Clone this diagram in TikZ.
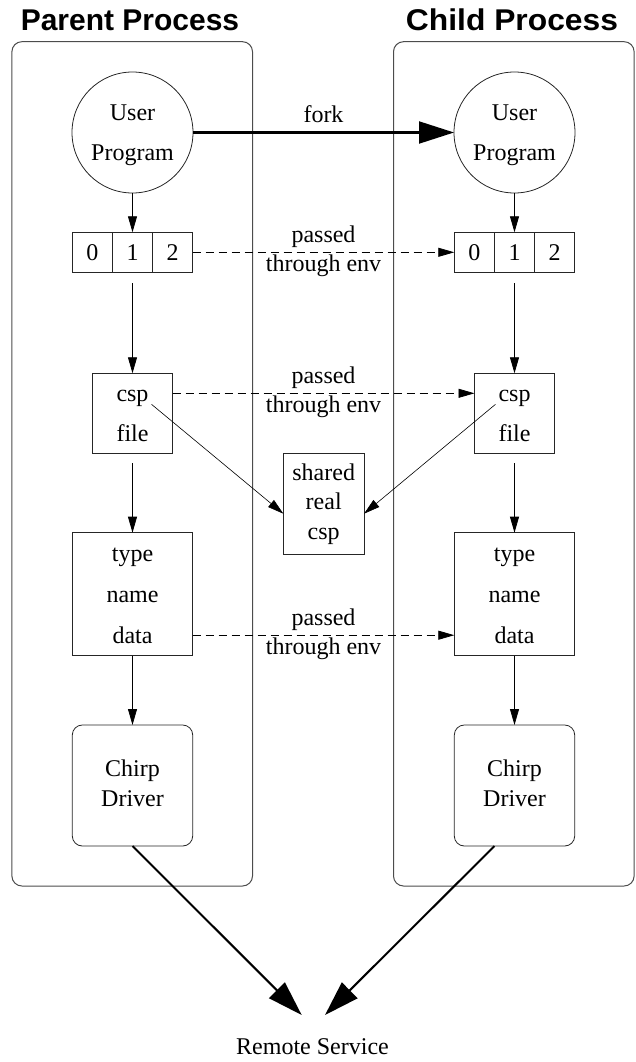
\documentclass[tikz,border=0pt]{standalone}
\usepackage{fontspec}
\usepackage{graphicx}
\setmainfont{Liberation Serif}
\newfontfamily\titlefont{Liberation Sans}
\usetikzlibrary{arrows.meta}
\begin{document}
\begin{tikzpicture}[x=1pt,y=-1pt,
  every node/.style={inner sep=0pt, outer sep=0pt},
  procbox/.style={draw=black!70, line width=1pt, rounded corners=10pt, minimum width=240.6pt, minimum height=844.3pt},
  titletext/.style={font=\titlefont\bfseries\fontsize{30}{34}\selectfont, anchor=base},
  tx/.style={font=\fontsize{24}{#1}\selectfont, align=center},
  tx/.default=40,
  plainbox/.style={draw=black!85, line width=0.8pt},
  cell/.style={plainbox, minimum width=40.2pt, minimum height=40pt, tx},
  small/.style={-{Triangle[length=16pt,width=9pt]}, line width=0.8pt},
  big/.style={-{Triangle[length=35pt,width=22pt]}, line width=2pt},
  dashedarrow/.style={small, dash pattern=on 8pt off 5pt},
  passlbl/.style={midway, tx=29.3, yshift=1.4pt}
]
\useasboundingbox (0,0) rectangle (635,1062);

% titles
\node[titletext] (ptitle) at (130,31) {\scalebox{1.0}[1]{Parent Process}};
\node[titletext] (ctitle) at (512,31) {\scalebox{1.06}[1]{Child Process}};

% process boxes
\node[procbox] (pbox) at (132.2,463.85) {};
\node[procbox] (cbox) at (513.8,463.85) {};

% user programs
\node[circle, plainbox, minimum size=121pt, tx] (upP) at (132.5,132.5) {\strut User\\\strut Program};
\node[circle, plainbox, minimum size=121pt, tx] (upC) at (514.5,132.5) {\strut User\\\strut Program};

% fd tables
\node[cell] (fd0P) at (92.4,252.3) {0};
\node[cell] (fd1P) at (132.5,252.3) {1};
\node[cell] (fd2P) at (172.6,252.3) {2};
\node[cell] (fd0C) at (474.4,252.3) {0};
\node[cell] (fd1C) at (514.5,252.3) {1};
\node[cell] (fd2C) at (554.6,252.3) {2};

% csp files
\node[plainbox, minimum width=80pt, minimum height=80pt, tx] (cspP) at (132.5,413.3) {\strut csp\\\strut file};
\node[plainbox, minimum width=80pt, minimum height=80pt, tx] (cspC) at (514.5,413.3) {\strut csp\\\strut file};

% shared real csp
\node[plainbox, minimum width=80.7pt, minimum height=100.7pt, tx=29.5] (shared) at (323.7,503.7) {\strut shared\\\strut real\\\strut csp};

% type name data
\node[plainbox, minimum width=120.4pt, minimum height=120.5pt, tx=41] (typeP) at (132.5,594.2) {\strut type\\\strut name\\\strut data};
\node[plainbox, minimum width=120.4pt, minimum height=120.5pt, tx=41] (typeC) at (514.5,594.2) {\strut type\\\strut name\\\strut data};

% chirp drivers
\node[plainbox, rounded corners=10pt, minimum width=120.4pt, minimum height=121pt, tx=30] (chirpP) at (132.5,785.5) {\strut Chirp\\\strut Driver};
\node[plainbox, rounded corners=10pt, minimum width=120.4pt, minimum height=121pt, tx=30] (chirpC) at (514.5,785.5) {\strut Chirp\\\strut Driver};

% remote service
\node[tx, anchor=base] (remote) at (312.5,1054) {Remote Service};
\coordinate (rsL) at (301.7,1015);
\coordinate (rsR) at (325,1015);

% fork
\draw[big] (upP.east) -- node[midway, tx, anchor=base, yshift=10.5pt] (forklbl) {fork} (upC.west);

% vertical flows
\draw[small] (upP.south) -- (fd1P.north);
\draw[small] (upC.south) -- (fd1C.north);
\draw[small, shorten <=11pt] (fd1P.south) -- (cspP.north);
\draw[small, shorten <=11pt] (fd1C.south) -- (cspC.north);
\draw[small, shorten <=10pt] (cspP.south) -- (typeP.north);
\draw[small, shorten <=10pt] (cspC.south) -- (typeC.north);
\draw[small] (typeP.south) -- (chirpP.north);
\draw[small] (typeC.south) -- (chirpC.north);

% passed through env
\draw[dashedarrow] (fd2P.east) -- node[passlbl] (lbl1) {\strut passed\\\strut through env} (fd0C.west);
\draw[dashedarrow] ([yshift=20pt]cspP.east) -- node[passlbl] (lbl2) {\strut passed\\\strut through env} ([yshift=20pt]cspC.west);
\draw[dashedarrow] ([yshift=-41pt]typeP.east) -- node[passlbl] (lbl3) {\strut passed\\\strut through env} ([yshift=-41pt]typeC.west);

% csp to shared
\draw[small, line width=0.6pt] ([shift={(19pt,9pt)}]cspP.center) -- ([yshift=-10pt]shared.west);
\draw[small, line width=0.6pt] ([shift={(-19pt,9pt)}]cspC.center) -- ([yshift=-10pt]shared.east);

% to remote service
\draw[big] (chirpP.south) -- (rsL);
\draw[big] ([xshift=-20pt]chirpC.south) -- (rsR);
\end{tikzpicture}
\end{document}
